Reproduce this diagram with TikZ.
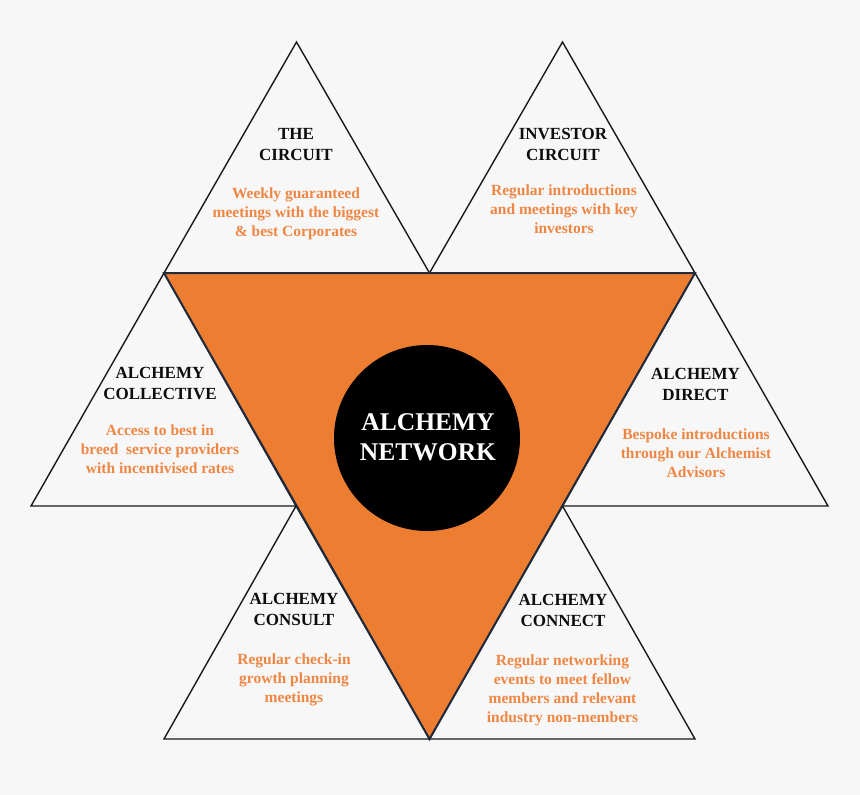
\documentclass[tikz,border=0pt]{standalone}
\usepackage{fontspec}
\setmainfont{Liberation Serif}
\definecolor{bg}{HTML}{F7F7F7}
\definecolor{orng}{HTML}{ED7D31}
\definecolor{txtor}{HTML}{EF8643}
\definecolor{navy}{HTML}{1F2A3C}
\begin{document}
\begin{tikzpicture}[x=1pt,y=-1pt,
  tri/.style={draw=black!90, line width=1.4pt, fill=bg, line join=miter},
  bigtri/.style={draw=navy, line width=2pt, fill=orng, line join=miter},
  title/.style={font=\fontsize{17}{21}\selectfont\bfseries, text=black!95, align=center, anchor=base, inner sep=0pt},
  body/.style={font=\fontsize{15.5}{18.8}\selectfont\bfseries, text=txtor, align=center, anchor=base, inner sep=0pt},
  hub/.style={circle, fill=black, minimum size=186pt, inner sep=0pt}]
\fill[bg] (0,0) rectangle (860,795);
\useasboundingbox (0,0) rectangle (860,795);
% key points
\coordinate (A) at (164,273);
\coordinate (B) at (429.5,273);
\coordinate (C) at (695,273);
\coordinate (D) at (296,506);
\coordinate (E) at (562.5,506);
\coordinate (F) at (429.5,739);
\coordinate (T1) at (296.5,42);
\coordinate (T2) at (562.5,42);
\coordinate (L1) at (31,506);
\coordinate (R1) at (828,506);
\coordinate (BL) at (164,739);
\coordinate (BR) at (695,739);
% small triangles
\draw[tri] (A) -- (T1) -- (B) -- cycle;
\draw[tri] (B) -- (T2) -- (C) -- cycle;
\draw[tri] (A) -- (L1) -- (D) -- cycle;
\draw[tri] (C) -- (R1) -- (E) -- cycle;
\draw[tri] (D) -- (BL) -- (F) -- cycle;
\draw[tri] (E) -- (BR) -- (F) -- cycle;
% big orange triangle
\draw[bigtri] (A) -- (C) -- (F) -- cycle;
% hub
\node[hub] (hub) at (427,438) {};
\node[font=\fontsize{25.5}{30}\selectfont\bfseries, text=white, align=center, anchor=base, inner sep=0pt] (hubtxt) at (428,460) {ALCHEMY\\NETWORK};
% texts (anchor = baseline of last line)
\node[title] (t1) at (296,160) {THE\\CIRCUIT};
\node[body] (b1) at (296,236) {Weekly guaranteed\\meetings with the biggest\\\& best Corporates};
\node[title] (t2) at (563,160) {INVESTOR\\CIRCUIT};
\node[body] (b2) at (564,233) {Regular introductions\\and meetings with key\\investors};
\node[title] (t3) at (160,399) {ALCHEMY\\COLLECTIVE};
\node[body] (b3) at (160,473) {Access to best in\\breed\ \ service providers\\with incentivised rates};
\node[title] (t4) at (695.5,400) {ALCHEMY\\DIRECT};
\node[body] (b4) at (696,477) {Bespoke introductions\\through our Alchemist\\Advisors};
\node[title] (t5) at (294,625) {ALCHEMY\\CONSULT};
\node[body] (b5) at (294,702) {Regular check-in\\growth planning\\meetings};
\node[title] (t6) at (563,626) {ALCHEMY\\CONNECT};
\node[body] (b6) at (562.5,722) {Regular networking\\events to meet fellow\\members and relevant\\industry non-members};
\end{tikzpicture}
\end{document}
